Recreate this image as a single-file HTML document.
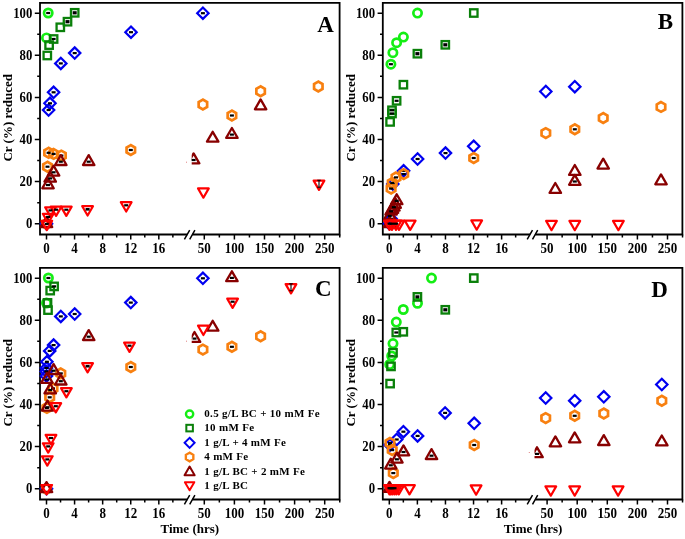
<!DOCTYPE html>
<html><head><meta charset="utf-8"><style>
html,body{margin:0;padding:0;background:#fff;width:685px;height:539px;overflow:hidden}
svg{display:block;filter:blur(0.3px)}
.tk{font-family:"Liberation Serif",serif;font-weight:bold;font-size:13px;fill:#000}
.ti{font-family:"Liberation Serif",serif;font-weight:bold;font-size:13px;fill:#000}
.pl{font-family:"Liberation Serif",serif;font-weight:bold;font-size:23px;fill:#000}
.lg{font-family:"Liberation Serif",serif;font-weight:bold;font-size:11px;letter-spacing:0.3px;fill:#000}
</style></head><body>
<svg width="685" height="539" viewBox="0 0 685 539">
<path d="M40.0 234.5V2.9H339.6V234.5H193.4M186.4 234.5H40.0" fill="none" stroke="#000" stroke-width="1.8" stroke-linejoin="miter" stroke-linecap="square"/>
<path d="M184.4 239.3L189.7 230.1M189.7 239.3L194.9 230.1" stroke="#000" stroke-width="1.5" fill="none"/>
<path d="M34.80 223.70H40.0M37.20 202.65H40.0M34.80 181.60H40.0M37.20 160.55H40.0M34.80 139.50H40.0M37.20 118.45H40.0M34.80 97.40H40.0M37.20 76.35H40.0M34.80 55.30H40.0M37.20 34.25H40.0M34.80 13.20H40.0M46.50 234.5V239.50M60.54 234.5V237.50M74.58 234.5V239.50M88.62 234.5V237.50M102.66 234.5V239.50M116.70 234.5V237.50M130.74 234.5V239.50M144.78 234.5V237.50M158.82 234.5V239.50M172.86 234.5V237.50M204.30 234.5V239.50M219.35 234.5V237.50M234.40 234.5V239.50M249.45 234.5V237.50M264.50 234.5V239.50M279.55 234.5V237.50M294.60 234.5V239.50M309.65 234.5V237.50M324.70 234.5V239.50M339.75 234.5V237.50" stroke="#000" stroke-width="1.5" fill="none"/>
<text transform="translate(32.30 228.00) scale(0.98 1.06)" text-anchor="end" class="tk">0</text>
<text transform="translate(32.30 185.90) scale(0.98 1.06)" text-anchor="end" class="tk">20</text>
<text transform="translate(32.30 143.80) scale(0.98 1.06)" text-anchor="end" class="tk">40</text>
<text transform="translate(32.30 101.70) scale(0.98 1.06)" text-anchor="end" class="tk">60</text>
<text transform="translate(32.30 59.60) scale(0.98 1.06)" text-anchor="end" class="tk">80</text>
<text transform="translate(32.30 17.50) scale(0.98 1.06)" text-anchor="end" class="tk">100</text>
<text transform="translate(46.50 252.60) scale(1 1.06)" text-anchor="middle" class="tk">0</text>
<text transform="translate(74.58 252.60) scale(1 1.06)" text-anchor="middle" class="tk">4</text>
<text transform="translate(102.66 252.60) scale(1 1.06)" text-anchor="middle" class="tk">8</text>
<text transform="translate(130.74 252.60) scale(1 1.06)" text-anchor="middle" class="tk">12</text>
<text transform="translate(158.82 252.60) scale(1 1.06)" text-anchor="middle" class="tk">16</text>
<text transform="translate(204.30 252.60) scale(1 1.06)" text-anchor="middle" class="tk">50</text>
<text transform="translate(234.40 252.60) scale(1 1.06)" text-anchor="middle" class="tk">100</text>
<text transform="translate(264.50 252.60) scale(1 1.06)" text-anchor="middle" class="tk">150</text>
<text transform="translate(294.60 252.60) scale(1 1.06)" text-anchor="middle" class="tk">200</text>
<text transform="translate(324.70 252.60) scale(1 1.06)" text-anchor="middle" class="tk">250</text>
<text transform="translate(12.40 117.80) rotate(-90)" text-anchor="middle" class="ti">Cr (%) reduced</text>
<path d="M382.8 234.5V2.9H682.4000000000001V234.5H536.2M529.2 234.5H382.8" fill="none" stroke="#000" stroke-width="1.8" stroke-linejoin="miter" stroke-linecap="square"/>
<path d="M527.2 239.3L532.5 230.1M532.5 239.3L537.7 230.1" stroke="#000" stroke-width="1.5" fill="none"/>
<path d="M377.60 223.70H382.8M380.00 202.65H382.8M377.60 181.60H382.8M380.00 160.55H382.8M377.60 139.50H382.8M380.00 118.45H382.8M377.60 97.40H382.8M380.00 76.35H382.8M377.60 55.30H382.8M380.00 34.25H382.8M377.60 13.20H382.8M389.30 234.5V239.50M403.34 234.5V237.50M417.38 234.5V239.50M431.42 234.5V237.50M445.46 234.5V239.50M459.50 234.5V237.50M473.54 234.5V239.50M487.58 234.5V237.50M501.62 234.5V239.50M515.66 234.5V237.50M547.10 234.5V239.50M562.15 234.5V237.50M577.20 234.5V239.50M592.25 234.5V237.50M607.30 234.5V239.50M622.35 234.5V237.50M637.40 234.5V239.50M652.45 234.5V237.50M667.50 234.5V239.50M682.55 234.5V237.50" stroke="#000" stroke-width="1.5" fill="none"/>
<text transform="translate(375.10 228.00) scale(0.98 1.06)" text-anchor="end" class="tk">0</text>
<text transform="translate(375.10 185.90) scale(0.98 1.06)" text-anchor="end" class="tk">20</text>
<text transform="translate(375.10 143.80) scale(0.98 1.06)" text-anchor="end" class="tk">40</text>
<text transform="translate(375.10 101.70) scale(0.98 1.06)" text-anchor="end" class="tk">60</text>
<text transform="translate(375.10 59.60) scale(0.98 1.06)" text-anchor="end" class="tk">80</text>
<text transform="translate(375.10 17.50) scale(0.98 1.06)" text-anchor="end" class="tk">100</text>
<text transform="translate(389.30 252.60) scale(1 1.06)" text-anchor="middle" class="tk">0</text>
<text transform="translate(417.38 252.60) scale(1 1.06)" text-anchor="middle" class="tk">4</text>
<text transform="translate(445.46 252.60) scale(1 1.06)" text-anchor="middle" class="tk">8</text>
<text transform="translate(473.54 252.60) scale(1 1.06)" text-anchor="middle" class="tk">12</text>
<text transform="translate(501.62 252.60) scale(1 1.06)" text-anchor="middle" class="tk">16</text>
<text transform="translate(547.10 252.60) scale(1 1.06)" text-anchor="middle" class="tk">50</text>
<text transform="translate(577.20 252.60) scale(1 1.06)" text-anchor="middle" class="tk">100</text>
<text transform="translate(607.30 252.60) scale(1 1.06)" text-anchor="middle" class="tk">150</text>
<text transform="translate(637.40 252.60) scale(1 1.06)" text-anchor="middle" class="tk">200</text>
<text transform="translate(667.50 252.60) scale(1 1.06)" text-anchor="middle" class="tk">250</text>
<text transform="translate(355.20 117.80) rotate(-90)" text-anchor="middle" class="ti">Cr (%) reduced</text>
<path d="M40.0 499.5V267.9H339.6V499.5H193.4M186.4 499.5H40.0" fill="none" stroke="#000" stroke-width="1.8" stroke-linejoin="miter" stroke-linecap="square"/>
<path d="M184.4 504.3L189.7 495.1M189.7 504.3L194.9 495.1" stroke="#000" stroke-width="1.5" fill="none"/>
<path d="M34.80 488.70H40.0M37.20 467.65H40.0M34.80 446.60H40.0M37.20 425.55H40.0M34.80 404.50H40.0M37.20 383.45H40.0M34.80 362.40H40.0M37.20 341.35H40.0M34.80 320.30H40.0M37.20 299.25H40.0M34.80 278.20H40.0M46.50 499.5V504.50M60.54 499.5V502.50M74.58 499.5V504.50M88.62 499.5V502.50M102.66 499.5V504.50M116.70 499.5V502.50M130.74 499.5V504.50M144.78 499.5V502.50M158.82 499.5V504.50M172.86 499.5V502.50M204.30 499.5V504.50M219.35 499.5V502.50M234.40 499.5V504.50M249.45 499.5V502.50M264.50 499.5V504.50M279.55 499.5V502.50M294.60 499.5V504.50M309.65 499.5V502.50M324.70 499.5V504.50M339.75 499.5V502.50" stroke="#000" stroke-width="1.5" fill="none"/>
<text transform="translate(32.30 493.00) scale(0.98 1.06)" text-anchor="end" class="tk">0</text>
<text transform="translate(32.30 450.90) scale(0.98 1.06)" text-anchor="end" class="tk">20</text>
<text transform="translate(32.30 408.80) scale(0.98 1.06)" text-anchor="end" class="tk">40</text>
<text transform="translate(32.30 366.70) scale(0.98 1.06)" text-anchor="end" class="tk">60</text>
<text transform="translate(32.30 324.60) scale(0.98 1.06)" text-anchor="end" class="tk">80</text>
<text transform="translate(32.30 282.50) scale(0.98 1.06)" text-anchor="end" class="tk">100</text>
<text transform="translate(46.50 517.60) scale(1 1.06)" text-anchor="middle" class="tk">0</text>
<text transform="translate(74.58 517.60) scale(1 1.06)" text-anchor="middle" class="tk">4</text>
<text transform="translate(102.66 517.60) scale(1 1.06)" text-anchor="middle" class="tk">8</text>
<text transform="translate(130.74 517.60) scale(1 1.06)" text-anchor="middle" class="tk">12</text>
<text transform="translate(158.82 517.60) scale(1 1.06)" text-anchor="middle" class="tk">16</text>
<text transform="translate(204.30 517.60) scale(1 1.06)" text-anchor="middle" class="tk">50</text>
<text transform="translate(234.40 517.60) scale(1 1.06)" text-anchor="middle" class="tk">100</text>
<text transform="translate(264.50 517.60) scale(1 1.06)" text-anchor="middle" class="tk">150</text>
<text transform="translate(294.60 517.60) scale(1 1.06)" text-anchor="middle" class="tk">200</text>
<text transform="translate(324.70 517.60) scale(1 1.06)" text-anchor="middle" class="tk">250</text>
<text transform="translate(12.40 382.80) rotate(-90)" text-anchor="middle" class="ti">Cr (%) reduced</text>
<path d="M382.8 499.5V267.9H682.4000000000001V499.5H536.2M529.2 499.5H382.8" fill="none" stroke="#000" stroke-width="1.8" stroke-linejoin="miter" stroke-linecap="square"/>
<path d="M527.2 504.3L532.5 495.1M532.5 504.3L537.7 495.1" stroke="#000" stroke-width="1.5" fill="none"/>
<path d="M377.60 488.70H382.8M380.00 467.65H382.8M377.60 446.60H382.8M380.00 425.55H382.8M377.60 404.50H382.8M380.00 383.45H382.8M377.60 362.40H382.8M380.00 341.35H382.8M377.60 320.30H382.8M380.00 299.25H382.8M377.60 278.20H382.8M389.30 499.5V504.50M403.34 499.5V502.50M417.38 499.5V504.50M431.42 499.5V502.50M445.46 499.5V504.50M459.50 499.5V502.50M473.54 499.5V504.50M487.58 499.5V502.50M501.62 499.5V504.50M515.66 499.5V502.50M547.10 499.5V504.50M562.15 499.5V502.50M577.20 499.5V504.50M592.25 499.5V502.50M607.30 499.5V504.50M622.35 499.5V502.50M637.40 499.5V504.50M652.45 499.5V502.50M667.50 499.5V504.50M682.55 499.5V502.50" stroke="#000" stroke-width="1.5" fill="none"/>
<text transform="translate(375.10 493.00) scale(0.98 1.06)" text-anchor="end" class="tk">0</text>
<text transform="translate(375.10 450.90) scale(0.98 1.06)" text-anchor="end" class="tk">20</text>
<text transform="translate(375.10 408.80) scale(0.98 1.06)" text-anchor="end" class="tk">40</text>
<text transform="translate(375.10 366.70) scale(0.98 1.06)" text-anchor="end" class="tk">60</text>
<text transform="translate(375.10 324.60) scale(0.98 1.06)" text-anchor="end" class="tk">80</text>
<text transform="translate(375.10 282.50) scale(0.98 1.06)" text-anchor="end" class="tk">100</text>
<text transform="translate(389.30 517.60) scale(1 1.06)" text-anchor="middle" class="tk">0</text>
<text transform="translate(417.38 517.60) scale(1 1.06)" text-anchor="middle" class="tk">4</text>
<text transform="translate(445.46 517.60) scale(1 1.06)" text-anchor="middle" class="tk">8</text>
<text transform="translate(473.54 517.60) scale(1 1.06)" text-anchor="middle" class="tk">12</text>
<text transform="translate(501.62 517.60) scale(1 1.06)" text-anchor="middle" class="tk">16</text>
<text transform="translate(547.10 517.60) scale(1 1.06)" text-anchor="middle" class="tk">50</text>
<text transform="translate(577.20 517.60) scale(1 1.06)" text-anchor="middle" class="tk">100</text>
<text transform="translate(607.30 517.60) scale(1 1.06)" text-anchor="middle" class="tk">150</text>
<text transform="translate(637.40 517.60) scale(1 1.06)" text-anchor="middle" class="tk">200</text>
<text transform="translate(667.50 517.60) scale(1 1.06)" text-anchor="middle" class="tk">250</text>
<text transform="translate(355.20 382.80) rotate(-90)" text-anchor="middle" class="ti">Cr (%) reduced</text>
<defs>
<clipPath id="rc0"><rect x="191.7" y="0" width="160" height="240"/></clipPath>
<clipPath id="rc1"><rect x="534.5" y="0" width="160" height="240"/></clipPath>
<clipPath id="rc2"><rect x="191.7" y="265.0" width="160" height="240"/></clipPath>
<clipPath id="rc3"><rect x="534.5" y="265.0" width="160" height="240"/></clipPath>
</defs>
<circle cx="46.50" cy="37.90" r="4.15" fill="none" stroke="#14ee14" stroke-width="2.7"/>
<circle cx="48.20" cy="13.00" r="4.15" fill="none" stroke="#14ee14" stroke-width="2.7"/>
<rect x="46.20" y="11.90" width="4" height="2.2" fill="#000"/>
<rect x="43.58" y="51.78" width="7.44" height="7.44" fill="none" stroke="#0a800a" stroke-width="2.3"/>
<rect x="45.38" y="41.38" width="7.44" height="7.44" fill="none" stroke="#0a800a" stroke-width="2.3"/>
<rect x="49.88" y="35.28" width="7.44" height="7.44" fill="none" stroke="#0a800a" stroke-width="2.3"/>
<rect x="56.58" y="23.58" width="7.44" height="7.44" fill="none" stroke="#0a800a" stroke-width="2.3"/>
<rect x="63.78" y="17.98" width="7.44" height="7.44" fill="none" stroke="#0a800a" stroke-width="2.3"/>
<rect x="70.98" y="9.08" width="7.44" height="7.44" fill="none" stroke="#0a800a" stroke-width="2.3"/>
<rect x="51.60" y="37.90" width="4" height="2.2" fill="#000"/>
<rect x="65.50" y="20.10" width="4" height="3.20" fill="#000"/>
<rect x="72.70" y="11.20" width="4" height="3.20" fill="#000"/>
<path d="M46.50 218.00L52.20 223.70L46.50 229.40L40.80 223.70Z" fill="none" stroke="#0000f0" stroke-width="2.2"/>
<path d="M48.60 104.30L54.30 110.00L48.60 115.70L42.90 110.00Z" fill="none" stroke="#0000f0" stroke-width="2.2"/>
<path d="M50.00 97.60L55.70 103.30L50.00 109.00L44.30 103.30Z" fill="none" stroke="#0000f0" stroke-width="2.2"/>
<path d="M53.60 86.60L59.30 92.30L53.60 98.00L47.90 92.30Z" fill="none" stroke="#0000f0" stroke-width="2.2"/>
<path d="M60.80 57.70L66.50 63.40L60.80 69.10L55.10 63.40Z" fill="none" stroke="#0000f0" stroke-width="2.2"/>
<path d="M74.70 47.40L80.40 53.10L74.70 58.80L69.00 53.10Z" fill="none" stroke="#0000f0" stroke-width="2.2"/>
<path d="M131.00 26.50L136.70 32.20L131.00 37.90L125.30 32.20Z" fill="none" stroke="#0000f0" stroke-width="2.2"/>
<path d="M202.90 7.50L208.60 13.20L202.90 18.90L197.20 13.20Z" fill="none" stroke="#0000f0" stroke-width="2.2"/>
<rect x="46.60" y="108.90" width="4" height="2.2" fill="#000"/>
<rect x="48.00" y="102.20" width="4" height="2.2" fill="#000"/>
<rect x="51.60" y="91.20" width="4" height="2.2" fill="#000"/>
<rect x="58.80" y="62.30" width="4" height="2.2" fill="#000"/>
<rect x="72.70" y="52.00" width="4" height="2.2" fill="#000"/>
<rect x="129.00" y="31.10" width="4" height="2.2" fill="#000"/>
<rect x="200.90" y="12.10" width="4" height="2.2" fill="#000"/>
<path d="M48.60 147.90L44.36 150.35L44.36 155.25L48.60 157.70L52.84 155.25L52.84 150.35Z" fill="none" stroke="#f88010" stroke-width="2.7"/>
<path d="M53.60 149.00L49.36 151.45L49.36 156.35L53.60 158.80L57.84 156.35L57.84 151.45Z" fill="none" stroke="#f88010" stroke-width="2.7"/>
<path d="M61.40 150.70L57.16 153.15L57.16 158.05L61.40 160.50L65.64 158.05L65.64 153.15Z" fill="none" stroke="#f88010" stroke-width="2.7"/>
<path d="M47.50 161.80L43.26 164.25L43.26 169.15L47.50 171.60L51.74 169.15L51.74 164.25Z" fill="none" stroke="#f88010" stroke-width="2.7"/>
<path d="M130.80 145.10L126.56 147.55L126.56 152.45L130.80 154.90L135.04 152.45L135.04 147.55Z" fill="none" stroke="#f88010" stroke-width="2.7"/>
<path d="M202.90 99.60L198.66 102.05L198.66 106.95L202.90 109.40L207.14 106.95L207.14 102.05Z" fill="none" stroke="#f88010" stroke-width="2.7"/>
<path d="M231.90 110.60L227.66 113.05L227.66 117.95L231.90 120.40L236.14 117.95L236.14 113.05Z" fill="none" stroke="#f88010" stroke-width="2.7"/>
<path d="M260.60 86.30L256.36 88.75L256.36 93.65L260.60 96.10L264.84 93.65L264.84 88.75Z" fill="none" stroke="#f88010" stroke-width="2.7"/>
<path d="M318.30 81.60L314.06 84.05L314.06 88.95L318.30 91.40L322.54 88.95L322.54 84.05Z" fill="none" stroke="#f88010" stroke-width="2.7"/>
<path d="M46.50 218.80L42.26 221.25L42.26 226.15L46.50 228.60L50.74 226.15L50.74 221.25Z" fill="none" stroke="#f88010" stroke-width="2.7"/>
<rect x="46.60" y="151.70" width="4" height="2.2" fill="#000"/>
<rect x="51.60" y="152.80" width="4" height="2.2" fill="#000"/>
<rect x="59.40" y="154.50" width="4" height="2.2" fill="#000"/>
<rect x="45.50" y="165.60" width="4" height="2.2" fill="#000"/>
<rect x="128.80" y="148.90" width="4" height="2.2" fill="#000"/>
<rect x="229.90" y="114.40" width="4" height="2.2" fill="#000"/>
<path d="M46.50 217.10L52.22 227.00L40.78 227.00Z" fill="none" stroke="#880000" stroke-width="2.3" stroke-linejoin="round"/>
<path d="M48.00 178.40L53.72 188.30L42.28 188.30Z" fill="none" stroke="#880000" stroke-width="2.3" stroke-linejoin="round"/>
<path d="M50.20 171.80L55.92 181.70L44.48 181.70Z" fill="none" stroke="#880000" stroke-width="2.3" stroke-linejoin="round"/>
<path d="M53.60 165.70L59.32 175.60L47.88 175.60Z" fill="none" stroke="#880000" stroke-width="2.3" stroke-linejoin="round"/>
<path d="M60.80 155.10L66.52 165.00L55.08 165.00Z" fill="none" stroke="#880000" stroke-width="2.3" stroke-linejoin="round"/>
<path d="M88.70 155.10L94.42 165.00L82.98 165.00Z" fill="none" stroke="#880000" stroke-width="2.3" stroke-linejoin="round"/>
<path d="M212.70 131.80L218.42 141.70L206.98 141.70Z" fill="none" stroke="#880000" stroke-width="2.3" stroke-linejoin="round"/>
<path d="M231.90 128.00L237.62 137.90L226.18 137.90Z" fill="none" stroke="#880000" stroke-width="2.3" stroke-linejoin="round"/>
<path d="M260.60 99.40L266.32 109.30L254.88 109.30Z" fill="none" stroke="#880000" stroke-width="2.3" stroke-linejoin="round"/>
<path d="M193.60 153.40L199.32 163.30L187.88 163.30Z" fill="none" stroke="#880000" stroke-width="2.3" stroke-linejoin="round" clip-path="url(#rc0)"/>
<rect x="46.00" y="183.90" width="4" height="2.2" fill="#000"/>
<rect x="48.20" y="177.30" width="4" height="2.2" fill="#000"/>
<rect x="51.60" y="171.20" width="4" height="2.2" fill="#000"/>
<rect x="58.80" y="160.60" width="4" height="2.2" fill="#000"/>
<rect x="86.70" y="160.60" width="4" height="2.2" fill="#000"/>
<rect x="229.90" y="133.50" width="4" height="2.2" fill="#000"/>
<rect x="191.60" y="158.90" width="4" height="2.2" fill="#000"/>
<path d="M46.80 230.10L52.17 220.80L41.43 220.80Z" fill="none" stroke="#ff0000" stroke-width="2.2" stroke-linejoin="round"/>
<path d="M48.20 223.10L53.57 213.80L42.83 213.80Z" fill="none" stroke="#ff0000" stroke-width="2.2" stroke-linejoin="round"/>
<path d="M50.50 216.60L55.87 207.30L45.13 207.30Z" fill="none" stroke="#ff0000" stroke-width="2.2" stroke-linejoin="round"/>
<path d="M56.10 215.90L61.47 206.60L50.73 206.60Z" fill="none" stroke="#ff0000" stroke-width="2.2" stroke-linejoin="round"/>
<path d="M66.30 215.90L71.67 206.60L60.93 206.60Z" fill="none" stroke="#ff0000" stroke-width="2.2" stroke-linejoin="round"/>
<path d="M87.60 215.50L92.97 206.20L82.23 206.20Z" fill="none" stroke="#ff0000" stroke-width="2.2" stroke-linejoin="round"/>
<path d="M126.20 211.50L131.57 202.20L120.83 202.20Z" fill="none" stroke="#ff0000" stroke-width="2.2" stroke-linejoin="round"/>
<path d="M203.40 197.70L208.77 188.40L198.03 188.40Z" fill="none" stroke="#ff0000" stroke-width="2.2" stroke-linejoin="round"/>
<path d="M319.00 189.90L324.37 180.60L313.63 180.60Z" fill="none" stroke="#ff0000" stroke-width="2.2" stroke-linejoin="round"/>
<rect x="44.80" y="222.80" width="4" height="2.2" fill="#000"/>
<rect x="46.20" y="215.80" width="4" height="2.2" fill="#000"/>
<rect x="48.50" y="209.30" width="4" height="2.2" fill="#000"/>
<rect x="54.10" y="208.60" width="4" height="2.2" fill="#000"/>
<rect x="64.30" y="208.60" width="4" height="2.2" fill="#000"/>
<rect x="85.60" y="208.00" width="4" height="2.60" fill="#000"/>
<rect x="124.20" y="204.20" width="4" height="2.2" fill="#000"/>
<path d="M317.20 180.20H320.80M317.20 187.20H320.80M319.00 180.20V187.20" stroke="#000" stroke-width="1.1" fill="none"/>
<circle cx="390.90" cy="64.20" r="4.15" fill="none" stroke="#14ee14" stroke-width="2.7"/>
<circle cx="392.90" cy="52.70" r="4.15" fill="none" stroke="#14ee14" stroke-width="2.7"/>
<circle cx="396.60" cy="42.70" r="4.15" fill="none" stroke="#14ee14" stroke-width="2.7"/>
<circle cx="403.40" cy="37.10" r="4.15" fill="none" stroke="#14ee14" stroke-width="2.7"/>
<circle cx="417.50" cy="13.10" r="4.15" fill="none" stroke="#14ee14" stroke-width="2.7"/>
<rect x="388.90" y="63.10" width="4" height="2.2" fill="#000"/>
<rect x="386.38" y="118.18" width="7.44" height="7.44" fill="none" stroke="#0a800a" stroke-width="2.3"/>
<rect x="388.28" y="109.78" width="7.44" height="7.44" fill="none" stroke="#0a800a" stroke-width="2.3"/>
<rect x="388.28" y="106.58" width="7.44" height="7.44" fill="none" stroke="#0a800a" stroke-width="2.3"/>
<rect x="392.88" y="97.08" width="7.44" height="7.44" fill="none" stroke="#0a800a" stroke-width="2.3"/>
<rect x="399.68" y="80.98" width="7.44" height="7.44" fill="none" stroke="#0a800a" stroke-width="2.3"/>
<rect x="413.68" y="49.98" width="7.44" height="7.44" fill="none" stroke="#0a800a" stroke-width="2.3"/>
<rect x="441.58" y="41.08" width="7.44" height="7.44" fill="none" stroke="#0a800a" stroke-width="2.3"/>
<rect x="470.08" y="9.28" width="7.44" height="7.44" fill="none" stroke="#0a800a" stroke-width="2.3"/>
<rect x="390.00" y="112.40" width="4" height="2.2" fill="#000"/>
<rect x="390.00" y="109.20" width="4" height="2.2" fill="#000"/>
<rect x="394.60" y="99.70" width="4" height="2.2" fill="#000"/>
<rect x="415.40" y="52.10" width="4" height="3.20" fill="#000"/>
<rect x="443.30" y="43.20" width="4" height="3.20" fill="#000"/>
<path d="M389.50 218.00L395.20 223.70L389.50 229.40L383.80 223.70Z" fill="none" stroke="#0000f0" stroke-width="2.2"/>
<path d="M391.10 213.10L396.80 218.80L391.10 224.50L385.40 218.80Z" fill="none" stroke="#0000f0" stroke-width="2.2"/>
<path d="M392.80 178.40L398.50 184.10L392.80 189.80L387.10 184.10Z" fill="none" stroke="#0000f0" stroke-width="2.2"/>
<path d="M403.60 165.10L409.30 170.80L403.60 176.50L397.90 170.80Z" fill="none" stroke="#0000f0" stroke-width="2.2"/>
<path d="M417.60 153.30L423.30 159.00L417.60 164.70L411.90 159.00Z" fill="none" stroke="#0000f0" stroke-width="2.2"/>
<path d="M445.50 147.40L451.20 153.10L445.50 158.80L439.80 153.10Z" fill="none" stroke="#0000f0" stroke-width="2.2"/>
<path d="M473.70 140.60L479.40 146.30L473.70 152.00L468.00 146.30Z" fill="none" stroke="#0000f0" stroke-width="2.2"/>
<path d="M545.80 85.80L551.50 91.50L545.80 97.20L540.10 91.50Z" fill="none" stroke="#0000f0" stroke-width="2.2"/>
<path d="M574.80 81.00L580.50 86.70L574.80 92.40L569.10 86.70Z" fill="none" stroke="#0000f0" stroke-width="2.2"/>
<rect x="389.10" y="217.70" width="4" height="2.2" fill="#000"/>
<rect x="390.80" y="183.00" width="4" height="2.2" fill="#000"/>
<rect x="401.60" y="169.70" width="4" height="2.2" fill="#000"/>
<rect x="415.60" y="157.90" width="4" height="2.2" fill="#000"/>
<rect x="443.50" y="152.00" width="4" height="2.2" fill="#000"/>
<path d="M391.10 183.70L386.86 186.15L386.86 191.05L391.10 193.50L395.34 191.05L395.34 186.15Z" fill="none" stroke="#f88010" stroke-width="2.7"/>
<path d="M392.20 178.10L387.96 180.55L387.96 185.45L392.20 187.90L396.44 185.45L396.44 180.55Z" fill="none" stroke="#f88010" stroke-width="2.7"/>
<path d="M396.00 172.50L391.76 174.95L391.76 179.85L396.00 182.30L400.24 179.85L400.24 174.95Z" fill="none" stroke="#f88010" stroke-width="2.7"/>
<path d="M403.70 169.20L399.46 171.65L399.46 176.55L403.70 179.00L407.94 176.55L407.94 171.65Z" fill="none" stroke="#f88010" stroke-width="2.7"/>
<path d="M473.70 153.10L469.46 155.55L469.46 160.45L473.70 162.90L477.94 160.45L477.94 155.55Z" fill="none" stroke="#f88010" stroke-width="2.7"/>
<path d="M545.80 128.20L541.56 130.65L541.56 135.55L545.80 138.00L550.04 135.55L550.04 130.65Z" fill="none" stroke="#f88010" stroke-width="2.7"/>
<path d="M574.80 124.40L570.56 126.85L570.56 131.75L574.80 134.20L579.04 131.75L579.04 126.85Z" fill="none" stroke="#f88010" stroke-width="2.7"/>
<path d="M603.20 113.10L598.96 115.55L598.96 120.45L603.20 122.90L607.44 120.45L607.44 115.55Z" fill="none" stroke="#f88010" stroke-width="2.7"/>
<path d="M661.00 102.00L656.76 104.45L656.76 109.35L661.00 111.80L665.24 109.35L665.24 104.45Z" fill="none" stroke="#f88010" stroke-width="2.7"/>
<rect x="389.10" y="187.50" width="4" height="2.2" fill="#000"/>
<rect x="390.20" y="181.90" width="4" height="2.2" fill="#000"/>
<rect x="394.00" y="176.30" width="4" height="2.2" fill="#000"/>
<rect x="401.70" y="173.00" width="4" height="2.2" fill="#000"/>
<rect x="471.70" y="156.90" width="4" height="2.2" fill="#000"/>
<rect x="572.80" y="128.20" width="4" height="2.2" fill="#000"/>
<path d="M389.50 217.10L395.22 227.00L383.78 227.00Z" fill="none" stroke="#880000" stroke-width="2.3" stroke-linejoin="round"/>
<path d="M389.80 209.40L395.52 219.30L384.08 219.30Z" fill="none" stroke="#880000" stroke-width="2.3" stroke-linejoin="round"/>
<path d="M391.10 204.70L396.82 214.60L385.38 214.60Z" fill="none" stroke="#880000" stroke-width="2.3" stroke-linejoin="round"/>
<path d="M392.50 202.90L398.22 212.80L386.78 212.80Z" fill="none" stroke="#880000" stroke-width="2.3" stroke-linejoin="round"/>
<path d="M393.90 200.60L399.62 210.50L388.18 210.50Z" fill="none" stroke="#880000" stroke-width="2.3" stroke-linejoin="round"/>
<path d="M395.20 197.90L400.92 207.80L389.48 207.80Z" fill="none" stroke="#880000" stroke-width="2.3" stroke-linejoin="round"/>
<path d="M396.70 194.30L402.42 204.20L390.98 204.20Z" fill="none" stroke="#880000" stroke-width="2.3" stroke-linejoin="round"/>
<path d="M555.30 183.00L561.02 192.90L549.58 192.90Z" fill="none" stroke="#880000" stroke-width="2.3" stroke-linejoin="round"/>
<path d="M574.80 165.00L580.52 174.90L569.08 174.90Z" fill="none" stroke="#880000" stroke-width="2.3" stroke-linejoin="round"/>
<path d="M574.80 174.90L580.52 184.80L569.08 184.80Z" fill="none" stroke="#880000" stroke-width="2.3" stroke-linejoin="round"/>
<path d="M603.20 158.70L608.92 168.60L597.48 168.60Z" fill="none" stroke="#880000" stroke-width="2.3" stroke-linejoin="round"/>
<path d="M661.00 174.40L666.72 184.30L655.28 184.30Z" fill="none" stroke="#880000" stroke-width="2.3" stroke-linejoin="round"/>
<rect x="387.80" y="214.90" width="4" height="2.2" fill="#000"/>
<rect x="389.10" y="210.20" width="4" height="2.2" fill="#000"/>
<rect x="391.90" y="206.10" width="4" height="2.2" fill="#000"/>
<rect x="394.70" y="199.80" width="4" height="2.2" fill="#000"/>
<rect x="572.80" y="180.40" width="4" height="2.2" fill="#000"/>
<path d="M389.50 229.90L394.87 220.60L384.13 220.60Z" fill="none" stroke="#ff0000" stroke-width="2.2" stroke-linejoin="round"/>
<path d="M392.00 229.90L397.37 220.60L386.63 220.60Z" fill="none" stroke="#ff0000" stroke-width="2.2" stroke-linejoin="round"/>
<path d="M396.00 229.90L401.37 220.60L390.63 220.60Z" fill="none" stroke="#ff0000" stroke-width="2.2" stroke-linejoin="round"/>
<path d="M399.00 229.90L404.37 220.60L393.63 220.60Z" fill="none" stroke="#ff0000" stroke-width="2.2" stroke-linejoin="round"/>
<path d="M410.20 229.90L415.57 220.60L404.83 220.60Z" fill="none" stroke="#ff0000" stroke-width="2.2" stroke-linejoin="round"/>
<path d="M476.70 229.70L482.07 220.40L471.33 220.40Z" fill="none" stroke="#ff0000" stroke-width="2.2" stroke-linejoin="round"/>
<path d="M551.50 230.20L556.87 220.90L546.13 220.90Z" fill="none" stroke="#ff0000" stroke-width="2.2" stroke-linejoin="round"/>
<path d="M574.80 230.20L580.17 220.90L569.43 220.90Z" fill="none" stroke="#ff0000" stroke-width="2.2" stroke-linejoin="round"/>
<path d="M618.40 230.20L623.77 220.90L613.03 220.90Z" fill="none" stroke="#ff0000" stroke-width="2.2" stroke-linejoin="round"/>
<rect x="387.50" y="222.60" width="4" height="2.2" fill="#000"/>
<rect x="390.00" y="222.60" width="4" height="2.2" fill="#000"/>
<rect x="394.00" y="222.60" width="4" height="2.2" fill="#000"/>
<circle cx="46.50" cy="303.00" r="4.15" fill="none" stroke="#14ee14" stroke-width="2.7"/>
<circle cx="48.40" cy="278.00" r="4.15" fill="none" stroke="#14ee14" stroke-width="2.7"/>
<rect x="46.40" y="276.90" width="4" height="2.2" fill="#000"/>
<rect x="44.28" y="306.38" width="7.44" height="7.44" fill="none" stroke="#0a800a" stroke-width="2.3"/>
<rect x="43.78" y="299.18" width="7.44" height="7.44" fill="none" stroke="#0a800a" stroke-width="2.3"/>
<rect x="46.48" y="286.88" width="7.44" height="7.44" fill="none" stroke="#0a800a" stroke-width="2.3"/>
<rect x="50.38" y="282.68" width="7.44" height="7.44" fill="none" stroke="#0a800a" stroke-width="2.3"/>
<rect x="52.10" y="285.30" width="4" height="2.2" fill="#000"/>
<path d="M46.50 483.00L52.20 488.70L46.50 494.40L40.80 488.70Z" fill="none" stroke="#0000f0" stroke-width="2.2"/>
<path d="M46.50 370.30L52.20 376.00L46.50 381.70L40.80 376.00Z" fill="none" stroke="#0000f0" stroke-width="2.2"/>
<path d="M46.30 365.80L52.00 371.50L46.30 377.20L40.60 371.50Z" fill="none" stroke="#0000f0" stroke-width="2.2"/>
<path d="M46.50 362.30L52.20 368.00L46.50 373.70L40.80 368.00Z" fill="none" stroke="#0000f0" stroke-width="2.2"/>
<path d="M46.90 356.10L52.60 361.80L46.90 367.50L41.20 361.80Z" fill="none" stroke="#0000f0" stroke-width="2.2"/>
<path d="M49.70 345.20L55.40 350.90L49.70 356.60L44.00 350.90Z" fill="none" stroke="#0000f0" stroke-width="2.2"/>
<path d="M53.60 339.40L59.30 345.10L53.60 350.80L47.90 345.10Z" fill="none" stroke="#0000f0" stroke-width="2.2"/>
<path d="M60.80 310.70L66.50 316.40L60.80 322.10L55.10 316.40Z" fill="none" stroke="#0000f0" stroke-width="2.2"/>
<path d="M74.70 308.30L80.40 314.00L74.70 319.70L69.00 314.00Z" fill="none" stroke="#0000f0" stroke-width="2.2"/>
<path d="M130.80 296.90L136.50 302.60L130.80 308.30L125.10 302.60Z" fill="none" stroke="#0000f0" stroke-width="2.2"/>
<path d="M202.90 272.60L208.60 278.30L202.90 284.00L197.20 278.30Z" fill="none" stroke="#0000f0" stroke-width="2.2"/>
<rect x="44.30" y="370.40" width="4" height="2.2" fill="#000"/>
<rect x="44.50" y="366.90" width="4" height="2.2" fill="#000"/>
<rect x="44.90" y="360.70" width="4" height="2.2" fill="#000"/>
<rect x="47.70" y="349.80" width="4" height="2.2" fill="#000"/>
<rect x="51.60" y="344.00" width="4" height="2.2" fill="#000"/>
<rect x="58.80" y="315.30" width="4" height="2.2" fill="#000"/>
<rect x="72.70" y="312.90" width="4" height="2.2" fill="#000"/>
<rect x="128.80" y="301.50" width="4" height="2.2" fill="#000"/>
<rect x="200.90" y="277.20" width="4" height="2.2" fill="#000"/>
<path d="M46.50 483.80L42.26 486.25L42.26 491.15L46.50 493.60L50.74 491.15L50.74 486.25Z" fill="none" stroke="#f88010" stroke-width="2.7"/>
<path d="M46.90 403.00L42.66 405.45L42.66 410.35L46.90 412.80L51.14 410.35L51.14 405.45Z" fill="none" stroke="#f88010" stroke-width="2.7"/>
<path d="M49.70 392.40L45.46 394.85L45.46 399.75L49.70 402.20L53.94 399.75L53.94 394.85Z" fill="none" stroke="#f88010" stroke-width="2.7"/>
<path d="M53.00 383.50L48.76 385.95L48.76 390.85L53.00 393.30L57.24 390.85L57.24 385.95Z" fill="none" stroke="#f88010" stroke-width="2.7"/>
<path d="M60.80 368.50L56.56 370.95L56.56 375.85L60.80 378.30L65.04 375.85L65.04 370.95Z" fill="none" stroke="#f88010" stroke-width="2.7"/>
<path d="M130.80 362.10L126.56 364.55L126.56 369.45L130.80 371.90L135.04 369.45L135.04 364.55Z" fill="none" stroke="#f88010" stroke-width="2.7"/>
<path d="M202.90 344.70L198.66 347.15L198.66 352.05L202.90 354.50L207.14 352.05L207.14 347.15Z" fill="none" stroke="#f88010" stroke-width="2.7"/>
<path d="M231.90 341.90L227.66 344.35L227.66 349.25L231.90 351.70L236.14 349.25L236.14 344.35Z" fill="none" stroke="#f88010" stroke-width="2.7"/>
<path d="M260.60 331.30L256.36 333.75L256.36 338.65L260.60 341.10L264.84 338.65L264.84 333.75Z" fill="none" stroke="#f88010" stroke-width="2.7"/>
<rect x="44.90" y="406.80" width="4" height="2.2" fill="#000"/>
<rect x="47.70" y="396.20" width="4" height="2.2" fill="#000"/>
<rect x="51.00" y="387.30" width="4" height="2.2" fill="#000"/>
<rect x="58.80" y="372.30" width="4" height="2.2" fill="#000"/>
<rect x="128.80" y="365.90" width="4" height="2.2" fill="#000"/>
<rect x="229.90" y="345.70" width="4" height="2.2" fill="#000"/>
<path d="M46.50 482.10L52.22 492.00L40.78 492.00Z" fill="none" stroke="#880000" stroke-width="2.3" stroke-linejoin="round"/>
<path d="M47.50 400.70L53.22 410.60L41.78 410.60Z" fill="none" stroke="#880000" stroke-width="2.3" stroke-linejoin="round"/>
<path d="M50.20 383.50L55.92 393.40L44.48 393.40Z" fill="none" stroke="#880000" stroke-width="2.3" stroke-linejoin="round"/>
<path d="M60.80 374.60L66.52 384.50L55.08 384.50Z" fill="none" stroke="#880000" stroke-width="2.3" stroke-linejoin="round"/>
<path d="M46.90 372.90L52.62 382.80L41.18 382.80Z" fill="none" stroke="#880000" stroke-width="2.3" stroke-linejoin="round"/>
<path d="M53.60 364.10L59.32 374.00L47.88 374.00Z" fill="none" stroke="#880000" stroke-width="2.3" stroke-linejoin="round"/>
<path d="M88.70 330.10L94.42 340.00L82.98 340.00Z" fill="none" stroke="#880000" stroke-width="2.3" stroke-linejoin="round"/>
<path d="M212.70 320.80L218.42 330.70L206.98 330.70Z" fill="none" stroke="#880000" stroke-width="2.3" stroke-linejoin="round"/>
<path d="M231.90 271.30L237.62 281.20L226.18 281.20Z" fill="none" stroke="#880000" stroke-width="2.3" stroke-linejoin="round"/>
<path d="M194.50 332.00L200.22 341.90L188.78 341.90Z" fill="none" stroke="#880000" stroke-width="2.3" stroke-linejoin="round" clip-path="url(#rc2)"/>
<rect x="45.50" y="406.20" width="4" height="2.2" fill="#000"/>
<rect x="48.20" y="389.00" width="4" height="2.2" fill="#000"/>
<rect x="58.80" y="380.10" width="4" height="2.2" fill="#000"/>
<rect x="44.90" y="378.40" width="4" height="2.2" fill="#000"/>
<rect x="51.60" y="369.60" width="4" height="2.2" fill="#000"/>
<rect x="86.70" y="335.60" width="4" height="2.2" fill="#000"/>
<rect x="229.90" y="276.80" width="4" height="2.2" fill="#000"/>
<rect x="192.50" y="337.50" width="4" height="2.2" fill="#000"/>
<path d="M46.70 494.30L52.07 485.00L41.33 485.00Z" fill="none" stroke="#ff0000" stroke-width="2.2" stroke-linejoin="round"/>
<path d="M47.30 465.60L52.67 456.30L41.93 456.30Z" fill="none" stroke="#ff0000" stroke-width="2.2" stroke-linejoin="round"/>
<path d="M48.20 452.60L53.57 443.30L42.83 443.30Z" fill="none" stroke="#ff0000" stroke-width="2.2" stroke-linejoin="round"/>
<path d="M51.00 444.20L56.37 434.90L45.63 434.90Z" fill="none" stroke="#ff0000" stroke-width="2.2" stroke-linejoin="round"/>
<path d="M55.80 412.40L61.17 403.10L50.43 403.10Z" fill="none" stroke="#ff0000" stroke-width="2.2" stroke-linejoin="round"/>
<path d="M66.40 397.40L71.77 388.10L61.03 388.10Z" fill="none" stroke="#ff0000" stroke-width="2.2" stroke-linejoin="round"/>
<path d="M87.60 372.40L92.97 363.10L82.23 363.10Z" fill="none" stroke="#ff0000" stroke-width="2.2" stroke-linejoin="round"/>
<path d="M129.50 351.90L134.87 342.60L124.13 342.60Z" fill="none" stroke="#ff0000" stroke-width="2.2" stroke-linejoin="round"/>
<path d="M203.40 335.00L208.77 325.70L198.03 325.70Z" fill="none" stroke="#ff0000" stroke-width="2.2" stroke-linejoin="round"/>
<path d="M232.60 307.90L237.97 298.60L227.23 298.60Z" fill="none" stroke="#ff0000" stroke-width="2.2" stroke-linejoin="round"/>
<path d="M291.00 293.40L296.37 284.10L285.63 284.10Z" fill="none" stroke="#ff0000" stroke-width="2.2" stroke-linejoin="round"/>
<rect x="45.30" y="458.30" width="4" height="2.2" fill="#000"/>
<rect x="46.20" y="445.30" width="4" height="2.2" fill="#000"/>
<rect x="49.00" y="436.90" width="4" height="2.2" fill="#000"/>
<rect x="53.80" y="405.10" width="4" height="2.2" fill="#000"/>
<rect x="64.40" y="390.10" width="4" height="2.2" fill="#000"/>
<rect x="85.60" y="364.90" width="4" height="2.60" fill="#000"/>
<rect x="127.50" y="344.60" width="4" height="2.2" fill="#000"/>
<rect x="230.60" y="300.60" width="4" height="2.2" fill="#000"/>
<path d="M289.20 283.70H292.80M289.20 290.70H292.80M291.00 283.70V290.70" stroke="#000" stroke-width="1.1" fill="none"/>
<circle cx="389.70" cy="364.40" r="4.15" fill="none" stroke="#14ee14" stroke-width="2.7"/>
<circle cx="391.70" cy="356.00" r="4.15" fill="none" stroke="#14ee14" stroke-width="2.7"/>
<circle cx="393.00" cy="343.60" r="4.15" fill="none" stroke="#14ee14" stroke-width="2.7"/>
<circle cx="396.30" cy="322.10" r="4.15" fill="none" stroke="#14ee14" stroke-width="2.7"/>
<circle cx="403.30" cy="309.50" r="4.15" fill="none" stroke="#14ee14" stroke-width="2.7"/>
<circle cx="417.50" cy="303.30" r="4.15" fill="none" stroke="#14ee14" stroke-width="2.7"/>
<circle cx="431.50" cy="278.10" r="4.15" fill="none" stroke="#14ee14" stroke-width="2.7"/>
<rect x="389.70" y="354.90" width="4" height="2.2" fill="#000"/>
<rect x="386.38" y="379.88" width="7.44" height="7.44" fill="none" stroke="#0a800a" stroke-width="2.3"/>
<rect x="387.28" y="362.68" width="7.44" height="7.44" fill="none" stroke="#0a800a" stroke-width="2.3"/>
<rect x="389.28" y="348.98" width="7.44" height="7.44" fill="none" stroke="#0a800a" stroke-width="2.3"/>
<rect x="392.58" y="328.78" width="7.44" height="7.44" fill="none" stroke="#0a800a" stroke-width="2.3"/>
<rect x="399.58" y="328.08" width="7.44" height="7.44" fill="none" stroke="#0a800a" stroke-width="2.3"/>
<rect x="413.68" y="293.18" width="7.44" height="7.44" fill="none" stroke="#0a800a" stroke-width="2.3"/>
<rect x="441.58" y="306.08" width="7.44" height="7.44" fill="none" stroke="#0a800a" stroke-width="2.3"/>
<rect x="470.08" y="274.38" width="7.44" height="7.44" fill="none" stroke="#0a800a" stroke-width="2.3"/>
<rect x="394.30" y="331.40" width="4" height="2.2" fill="#000"/>
<rect x="415.40" y="295.30" width="4" height="3.20" fill="#000"/>
<rect x="443.30" y="308.20" width="4" height="3.20" fill="#000"/>
<path d="M390.00 439.30L395.70 445.00L390.00 450.70L384.30 445.00Z" fill="none" stroke="#0000f0" stroke-width="2.2"/>
<path d="M396.70 433.80L402.40 439.50L396.70 445.20L391.00 439.50Z" fill="none" stroke="#0000f0" stroke-width="2.2"/>
<path d="M403.40 426.00L409.10 431.70L403.40 437.40L397.70 431.70Z" fill="none" stroke="#0000f0" stroke-width="2.2"/>
<path d="M417.60 430.20L423.30 435.90L417.60 441.60L411.90 435.90Z" fill="none" stroke="#0000f0" stroke-width="2.2"/>
<path d="M445.10 407.20L450.80 412.90L445.10 418.60L439.40 412.90Z" fill="none" stroke="#0000f0" stroke-width="2.2"/>
<path d="M474.20 417.60L479.90 423.30L474.20 429.00L468.50 423.30Z" fill="none" stroke="#0000f0" stroke-width="2.2"/>
<path d="M545.70 392.30L551.40 398.00L545.70 403.70L540.00 398.00Z" fill="none" stroke="#0000f0" stroke-width="2.2"/>
<path d="M574.70 395.00L580.40 400.70L574.70 406.40L569.00 400.70Z" fill="none" stroke="#0000f0" stroke-width="2.2"/>
<path d="M603.80 391.10L609.50 396.80L603.80 402.50L598.10 396.80Z" fill="none" stroke="#0000f0" stroke-width="2.2"/>
<path d="M661.80 378.80L667.50 384.50L661.80 390.20L656.10 384.50Z" fill="none" stroke="#0000f0" stroke-width="2.2"/>
<rect x="388.00" y="443.90" width="4" height="2.2" fill="#000"/>
<rect x="394.70" y="438.40" width="4" height="2.2" fill="#000"/>
<rect x="401.40" y="430.60" width="4" height="2.2" fill="#000"/>
<rect x="415.60" y="434.80" width="4" height="2.2" fill="#000"/>
<rect x="443.10" y="411.80" width="4" height="2.2" fill="#000"/>
<path d="M393.30 468.20L389.06 470.65L389.06 475.55L393.30 478.00L397.54 475.55L397.54 470.65Z" fill="none" stroke="#f88010" stroke-width="2.7"/>
<path d="M392.20 445.20L387.96 447.65L387.96 452.55L392.20 455.00L396.44 452.55L396.44 447.65Z" fill="none" stroke="#f88010" stroke-width="2.7"/>
<path d="M390.00 438.00L385.76 440.45L385.76 445.35L390.00 447.80L394.24 445.35L394.24 440.45Z" fill="none" stroke="#f88010" stroke-width="2.7"/>
<path d="M474.20 440.10L469.96 442.55L469.96 447.45L474.20 449.90L478.44 447.45L478.44 442.55Z" fill="none" stroke="#f88010" stroke-width="2.7"/>
<path d="M545.70 413.20L541.46 415.65L541.46 420.55L545.70 423.00L549.94 420.55L549.94 415.65Z" fill="none" stroke="#f88010" stroke-width="2.7"/>
<path d="M574.70 410.90L570.46 413.35L570.46 418.25L574.70 420.70L578.94 418.25L578.94 413.35Z" fill="none" stroke="#f88010" stroke-width="2.7"/>
<path d="M603.80 408.60L599.56 411.05L599.56 415.95L603.80 418.40L608.04 415.95L608.04 411.05Z" fill="none" stroke="#f88010" stroke-width="2.7"/>
<path d="M661.80 395.80L657.56 398.25L657.56 403.15L661.80 405.60L666.04 403.15L666.04 398.25Z" fill="none" stroke="#f88010" stroke-width="2.7"/>
<rect x="391.30" y="472.00" width="4" height="2.2" fill="#000"/>
<rect x="390.20" y="449.00" width="4" height="2.2" fill="#000"/>
<rect x="388.00" y="441.80" width="4" height="2.2" fill="#000"/>
<rect x="472.20" y="443.90" width="4" height="2.2" fill="#000"/>
<rect x="572.70" y="414.70" width="4" height="2.2" fill="#000"/>
<path d="M389.50 481.90L395.22 491.80L383.78 491.80Z" fill="none" stroke="#880000" stroke-width="2.3" stroke-linejoin="round"/>
<path d="M390.80 458.70L396.52 468.60L385.08 468.60Z" fill="none" stroke="#880000" stroke-width="2.3" stroke-linejoin="round"/>
<path d="M396.90 452.70L402.62 462.60L391.18 462.60Z" fill="none" stroke="#880000" stroke-width="2.3" stroke-linejoin="round"/>
<path d="M403.50 445.40L409.22 455.30L397.78 455.30Z" fill="none" stroke="#880000" stroke-width="2.3" stroke-linejoin="round"/>
<path d="M431.50 449.10L437.22 459.00L425.78 459.00Z" fill="none" stroke="#880000" stroke-width="2.3" stroke-linejoin="round"/>
<path d="M555.40 436.40L561.12 446.30L549.68 446.30Z" fill="none" stroke="#880000" stroke-width="2.3" stroke-linejoin="round"/>
<path d="M574.70 432.40L580.42 442.30L568.98 442.30Z" fill="none" stroke="#880000" stroke-width="2.3" stroke-linejoin="round"/>
<path d="M603.80 435.10L609.52 445.00L598.08 445.00Z" fill="none" stroke="#880000" stroke-width="2.3" stroke-linejoin="round"/>
<path d="M661.80 435.50L667.52 445.40L656.08 445.40Z" fill="none" stroke="#880000" stroke-width="2.3" stroke-linejoin="round"/>
<path d="M537.00 447.30L542.72 457.20L531.28 457.20Z" fill="none" stroke="#880000" stroke-width="2.3" stroke-linejoin="round" clip-path="url(#rc3)"/>
<rect x="388.80" y="464.20" width="4" height="2.2" fill="#000"/>
<rect x="394.90" y="458.20" width="4" height="2.2" fill="#000"/>
<rect x="401.50" y="450.90" width="4" height="2.2" fill="#000"/>
<rect x="429.50" y="454.60" width="4" height="2.2" fill="#000"/>
<rect x="535.00" y="452.80" width="4" height="2.2" fill="#000"/>
<path d="M389.50 494.40L394.87 485.10L384.13 485.10Z" fill="none" stroke="#ff0000" stroke-width="2.2" stroke-linejoin="round"/>
<path d="M390.80 494.40L396.17 485.10L385.43 485.10Z" fill="none" stroke="#ff0000" stroke-width="2.2" stroke-linejoin="round"/>
<path d="M392.50 494.40L397.87 485.10L387.13 485.10Z" fill="none" stroke="#ff0000" stroke-width="2.2" stroke-linejoin="round"/>
<path d="M394.50 494.40L399.87 485.10L389.13 485.10Z" fill="none" stroke="#ff0000" stroke-width="2.2" stroke-linejoin="round"/>
<path d="M396.50 494.40L401.87 485.10L391.13 485.10Z" fill="none" stroke="#ff0000" stroke-width="2.2" stroke-linejoin="round"/>
<path d="M398.80 494.40L404.17 485.10L393.43 485.10Z" fill="none" stroke="#ff0000" stroke-width="2.2" stroke-linejoin="round"/>
<path d="M409.50 494.40L414.87 485.10L404.13 485.10Z" fill="none" stroke="#ff0000" stroke-width="2.2" stroke-linejoin="round"/>
<path d="M476.10 494.70L481.47 485.40L470.73 485.40Z" fill="none" stroke="#ff0000" stroke-width="2.2" stroke-linejoin="round"/>
<path d="M550.80 495.70L556.17 486.40L545.43 486.40Z" fill="none" stroke="#ff0000" stroke-width="2.2" stroke-linejoin="round"/>
<path d="M574.70 495.70L580.07 486.40L569.33 486.40Z" fill="none" stroke="#ff0000" stroke-width="2.2" stroke-linejoin="round"/>
<path d="M618.10 495.70L623.47 486.40L612.73 486.40Z" fill="none" stroke="#ff0000" stroke-width="2.2" stroke-linejoin="round"/>
<rect x="387.50" y="487.10" width="4" height="2.2" fill="#000"/>
<rect x="388.80" y="487.10" width="4" height="2.2" fill="#000"/>
<rect x="390.50" y="487.10" width="4" height="2.2" fill="#000"/>
<rect x="392.50" y="487.10" width="4" height="2.2" fill="#000"/>
<rect x="186.0" y="161.7" width="1" height="1" fill="#e08080"/>
<rect x="186.0" y="340.7" width="1" height="1" fill="#e08080"/>
<rect x="528.8" y="452.0" width="1" height="1" fill="#e08080"/>
<g transform="translate(189.6 414.1) scale(0.88) translate(-189.6 -414.1)">
<circle cx="189.60" cy="414.10" r="4.15" fill="none" stroke="#14ee14" stroke-width="2.7"/>
</g>
<g transform="translate(189.6 428.1) scale(0.88) translate(-189.6 -428.1)">
<rect x="185.88" y="424.38" width="7.44" height="7.44" fill="none" stroke="#0a800a" stroke-width="2.3"/>
</g>
<g transform="translate(189.6 442.8) scale(0.88) translate(-189.6 -442.8)">
<path d="M189.60 437.10L195.30 442.80L189.60 448.50L183.90 442.80Z" fill="none" stroke="#0000f0" stroke-width="2.2"/>
</g>
<g transform="translate(189.6 457) scale(0.88) translate(-189.6 -457)">
<path d="M189.60 452.10L185.36 454.55L185.36 459.45L189.60 461.90L193.84 459.45L193.84 454.55Z" fill="none" stroke="#f88010" stroke-width="2.7"/>
</g>
<g transform="translate(189.6 472.4) scale(0.88) translate(-189.6 -472.4)">
<path d="M189.60 465.80L195.32 475.70L183.88 475.70Z" fill="none" stroke="#880000" stroke-width="2.3" stroke-linejoin="round"/>
</g>
<g transform="translate(189.6 484.9) scale(0.88) translate(-189.6 -484.9)">
<path d="M189.60 491.10L194.97 481.80L184.23 481.80Z" fill="none" stroke="#ff0000" stroke-width="2.2" stroke-linejoin="round"/>
</g>
<text x="204.3" y="416.90" class="lg">0.5 g/L BC + 10 mM Fe</text>
<text x="204.3" y="431.40" class="lg">10 mM Fe</text>
<text x="204.3" y="445.80" class="lg">1 g/L + 4 mM Fe</text>
<text x="204.3" y="460.30" class="lg">4 mM Fe</text>
<text x="204.3" y="474.70" class="lg">1 g/L BC + 2 mM Fe</text>
<text x="204.3" y="489.20" class="lg">1 g/L BC</text>
<text x="189.8" y="532.6" text-anchor="middle" class="ti">Time (hrs)</text>
<text x="533.0" y="532.6" text-anchor="middle" class="ti">Time (hrs)</text>
<text x="325.5" y="32.1" text-anchor="middle" class="pl">A</text>
<text x="665.3" y="29.2" text-anchor="middle" class="pl">B</text>
<text x="323.2" y="295.8" text-anchor="middle" class="pl">C</text>
<text x="659.6" y="296.7" text-anchor="middle" class="pl">D</text>
</svg>
</body></html>
